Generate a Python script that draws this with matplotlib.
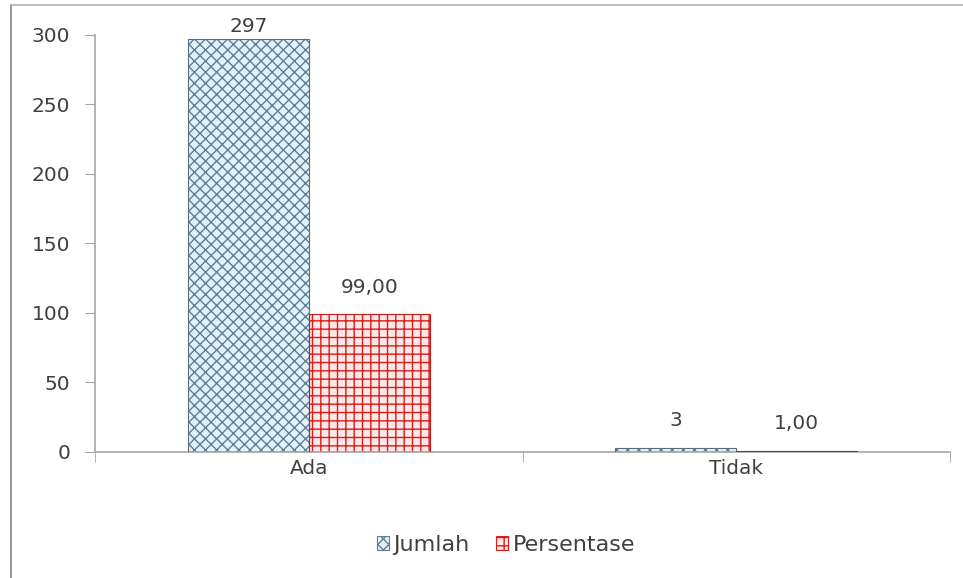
import matplotlib
matplotlib.use("Agg")
import matplotlib.pyplot as plt
import numpy as np
from matplotlib.lines import Line2D
from matplotlib.patches import Patch

plt.rcParams['font.family'] = ['DejaVu Sans']
plt.rcParams['hatch.linewidth'] = 1.0

categories = ["Ada", "Tidak"]
jumlah = [297, 3]
persentase = [99.00, 1.00]
jumlah_labels = ["297", "3"]
persentase_labels = ["99,00", "1,00"]
series_names = ["Jumlah", "Persentase"]
y_ticks = [0, 50, 100, 150, 200, 250, 300]

fig = plt.figure(figsize=(9.63, 5.78), dpi=100)
fig.patch.set_facecolor("white")
ax = fig.add_axes([0.0987, 0.218, 0.8878, 0.7215])

x = np.arange(len(categories))
w = 0.283
text_col = "#404040"
fs = 14.5

b1 = ax.bar(x - w / 2, jumlah, w, facecolor="#e2f2fb", edgecolor="#5f7f95",
            hatch="xxx", linewidth=0.0, zorder=2)
b2 = ax.bar(x + w / 2, persentase, w, facecolor="#fde8e8", edgecolor="#e01b1b",
            hatch="++", linewidth=0.0, zorder=2)

# darker outline on the bars
for bars, ec in ((b1, "#5a6e7c"), (b2, "#c41a1a")):
    for r in bars:
        ax.add_patch(plt.Rectangle(r.get_xy(), r.get_width(), r.get_height(),
                                   fill=False, edgecolor=ec, linewidth=0.8, zorder=3))

ax.set_ylim(0, 300)
ax.set_xlim(-0.5, len(categories) - 0.5)
ax.set_yticks(y_ticks)
ax.set_yticklabels([str(t) for t in y_ticks])
ax.set_xticks(x)
ax.set_xticklabels(categories)
ax.set_xticks(np.arange(len(categories) + 1) - 0.5, minor=True)
ax.tick_params(axis="x", which="major", length=0, pad=5, labelsize=fs, labelcolor=text_col)
ax.tick_params(axis="x", which="minor", length=7, color="#a6a6a6", direction="out")
ax.tick_params(axis="y", length=7, color="#a6a6a6", labelsize=fs, labelcolor=text_col, pad=11)

for side in ("top", "right"):
    ax.spines[side].set_visible(False)
for side in ("left", "bottom"):
    ax.spines[side].set_color("#a6a6a6")
    ax.spines[side].set_linewidth(1.2)

# value labels above each bar
def put_labels(bars, labels):
    for r, lab in zip(bars, labels):
        cx = r.get_x() + r.get_width() / 2
        top = r.get_height()
        off = 27 if top < 280 else 13
        ax.annotate(lab, (cx, top), xytext=(0, off * 72 / 100), textcoords="offset points",
                    ha="center", va="center", fontsize=fs, color=text_col,
                    annotation_clip=False)

put_labels(b1, jumlah_labels)
put_labels(b2, persentase_labels)

handles = [Patch(facecolor="#e2f2fb", edgecolor="#5f7f95", hatch="xxx", linewidth=0.8),
           Patch(facecolor="#fde8e8", edgecolor="#e01b1b", hatch="++", linewidth=0.8)]
fig.legend(handles, series_names, loc="center", bbox_to_anchor=(506 / 963, 1 - 545 / 578),
           ncol=2, frameon=False, fontsize=16, labelcolor=text_col,
           handlelength=0.55, handleheight=0.55, handletextpad=0.2, columnspacing=1.2)

# outer chart frame (left and top edges)
fig.add_artist(Line2D([11 / 963, 11 / 963], [0, 1 - 5 / 578], transform=fig.transFigure,
                      color="#9a9a9a", linewidth=1.5))
fig.add_artist(Line2D([11 / 963, 1], [1 - 5 / 578, 1 - 5 / 578], transform=fig.transFigure,
                      color="#b0b0b0", linewidth=1.2))

fig.savefig("out.png", dpi=100, facecolor="white")
